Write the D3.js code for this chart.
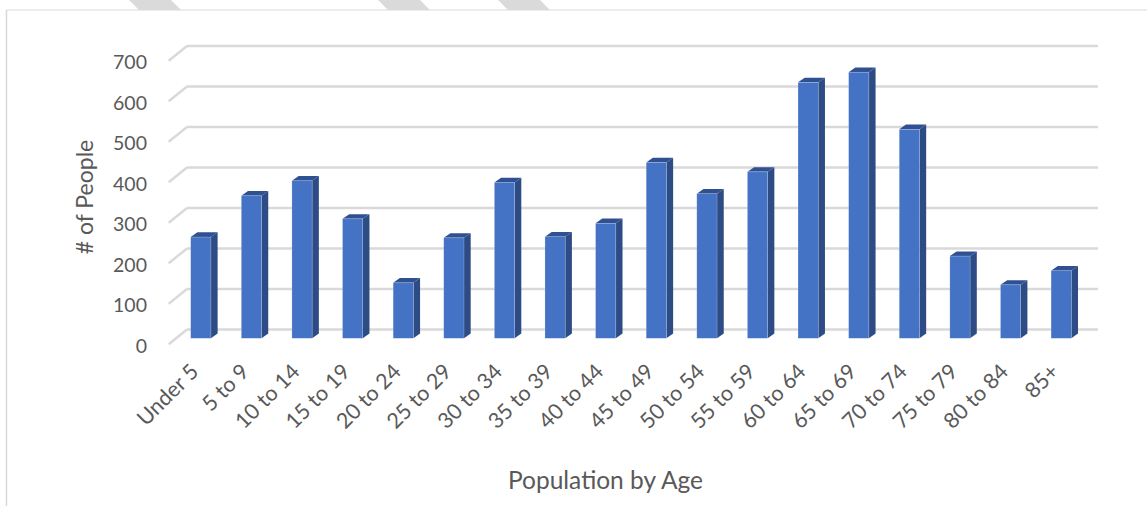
<!DOCTYPE html>
<html>
<head>
<meta charset="utf-8">
<script src="https://cdn.jsdelivr.net/npm/d3@7"></script>
<style>
  html, body { margin: 0; padding: 0; background: #ffffff; }
  svg { display: block; font-family: Lato, "Open Sans", sans-serif; }
</style>
</head>
<body>
<svg id="chart" width="1147" height="506"></svg>
<script>
// Age groups and head counts
const ageGroups = ["Under 5", "5 to 9", "10 to 14", "15 to 19", "20 to 24", "25 to 29",
  "30 to 34", "35 to 39", "40 to 44", "45 to 49", "50 to 54", "55 to 59",
  "60 to 64", "65 to 69", "70 to 74", "75 to 79", "80 to 84", "85+"];
const people = [250, 352, 389, 295, 137, 248, 385, 251, 284, 434, 357, 411,
  632, 657, 516, 203, 132, 167];
const yTicks = [0, 100, 200, 300, 400, 500, 600, 700];
const xTitle = "Population by Age";
const yTitle = "# of People";

const svg = d3.select("#chart");
const textColor = "#595959";
const gridColor = "#d9d9d9";

// Page decoration stripes above the chart frame
const stripeG = svg.append("g");
[129, 378, 498].forEach(x0 => {
  stripeG.append("polygon")
    .attr("points", [[x0, 0], [x0 + 42, 0], [x0 + 52, 10], [x0 + 10, 10]].map(p => p.join(",")).join(" "))
    .attr("fill", "#dadada");
});

// Chart frame (top and left edges)
svg.append("line").attr("x1", 6.5).attr("y1", 10).attr("x2", 1147).attr("y2", 10)
  .attr("stroke", gridColor).attr("stroke-width", 1.2);
svg.append("line").attr("x1", 6.5).attr("y1", 10).attr("x2", 6.5).attr("y2", 506)
  .attr("stroke", gridColor).attr("stroke-width", 1.5);

// Scales on the front plane of the columns
const x = d3.scaleBand().domain(ageGroups).range([175.5, 1086.5])
  .paddingInner(0.6).paddingOuter(0.3);
const y = d3.scaleLinear().domain([0, 700]).range([338.3, 338.3 - 700 * 0.405]);

// 3D offsets: back wall relative to column front, floor depth, column depth
const wall = { dx: 11.5, dy: -8.8 };
const floorDepth = { dx: 18.3, dy: -14.7 };
const colDepth = { dx: 6.7, dy: -4.7 };

const xStart = x.range()[0], xEnd = x.range()[1];

// Back-wall gridlines with diagonal floor-side ticks
const grid = svg.append("g");
yTicks.forEach(v => {
  const yb = y(v) + wall.dy;
  const xb0 = xStart + wall.dx;
  grid.append("line")
    .attr("x1", xb0).attr("y1", yb).attr("x2", xEnd + wall.dx).attr("y2", yb)
    .attr("stroke", gridColor).attr("stroke-width", 2.4);
  grid.append("line")
    .attr("x1", xb0).attr("y1", yb)
    .attr("x2", xb0 - floorDepth.dx).attr("y2", yb - floorDepth.dy)
    .attr("stroke", gridColor).attr("stroke-width", 2.4);
});

// Y tick labels
svg.append("g").selectAll("text").data(yTicks).join("text")
  .attr("x", 147)
  .attr("y", d => y(d) + wall.dy - floorDepth.dy + 1)
  .attr("text-anchor", "end")
  .attr("dominant-baseline", "central")
  .attr("fill", textColor)
  .style("font-size", "19.5px")
  .text(d => d);

// Columns
const frontFill = "#4472c4", sideFill = "#2d4b85", topFill = "#2f5191";
const bars = svg.append("g").selectAll("g").data(people).join("g");
const bw = x.bandwidth();
bars.each(function (v, i) {
  const g = d3.select(this);
  const x0 = x(ageGroups[i]);
  const yt = y(v), yb = y(0);
  const dx = colDepth.dx, dy = colDepth.dy;
  g.append("polygon")
    .attr("points", [[x0 + bw, yt], [x0 + bw + dx, yt + dy], [x0 + bw + dx, yb + dy], [x0 + bw, yb]].join(" "))
    .attr("fill", sideFill);
  g.append("polygon")
    .attr("points", [[x0, yt], [x0 + dx, yt + dy], [x0 + bw + dx, yt + dy], [x0 + bw, yt]].join(" "))
    .attr("fill", topFill);
  g.append("rect")
    .attr("x", x0).attr("y", yt).attr("width", bw).attr("height", yb - yt)
    .attr("fill", frontFill)
    .attr("stroke", "rgba(255,255,255,0.35)").attr("stroke-width", 0.6);
});

// Category labels, rotated
svg.append("g").selectAll("text").data(ageGroups).join("text")
  .attr("transform", d => `translate(${x(d) + bw / 2 - 1},${373}) rotate(-45)`)
  .attr("text-anchor", "end")
  .attr("fill", textColor)
  .style("font-size", "21.5px")
  .text(d => d);

// Axis titles
svg.append("text")
  .attr("x", 605.5).attr("y", 489)
  .attr("text-anchor", "middle")
  .attr("fill", textColor)
  .style("font-size", "24.5px")
  .text(xTitle);

svg.append("text")
  .attr("transform", "translate(93,197) rotate(-90)")
  .attr("text-anchor", "middle")
  .attr("fill", textColor)
  .style("font-size", "23px")
  .text(yTitle);
</script>
</body>
</html>
